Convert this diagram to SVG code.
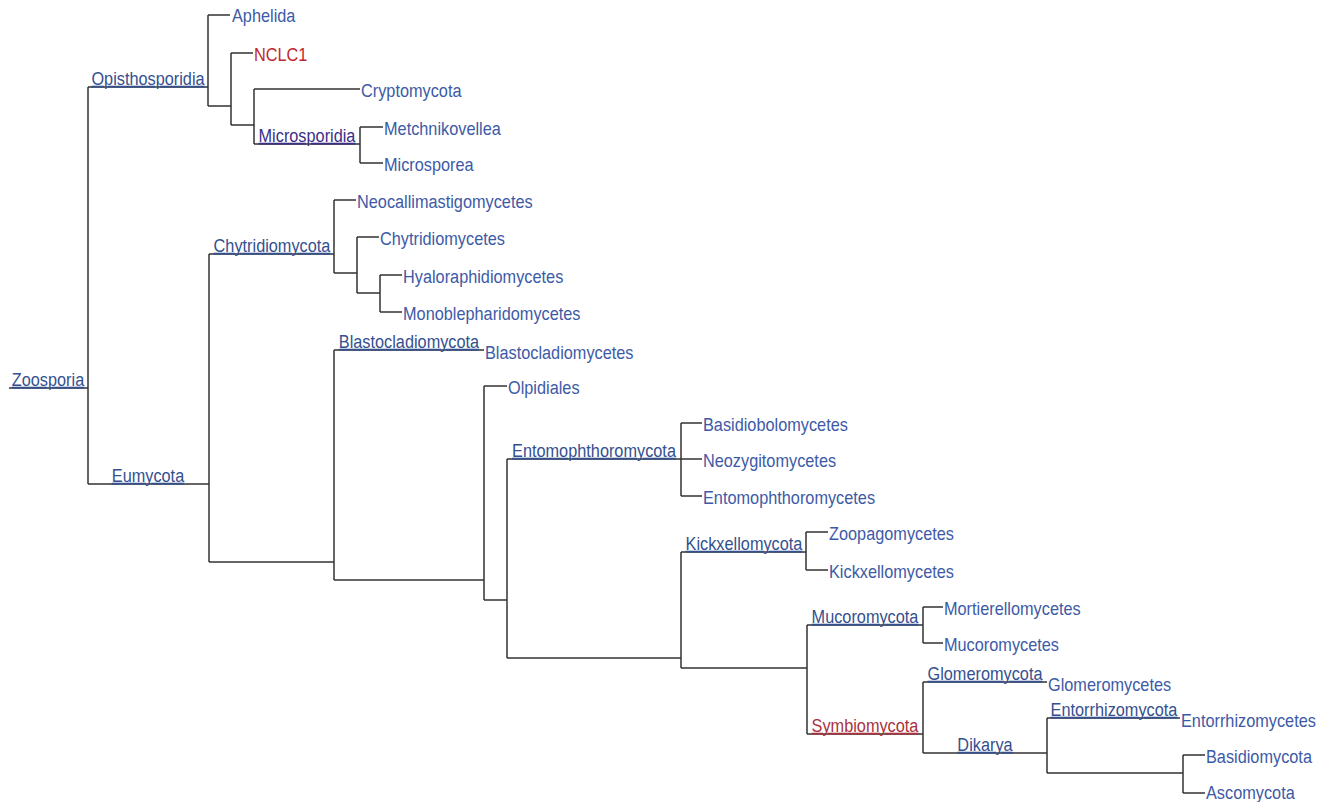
<svg xmlns="http://www.w3.org/2000/svg" width="1334" height="802" viewBox="0 0 1334 802">
<style>
text{font-family:"Liberation Sans",Arial,sans-serif;font-size:16.3px;transform-box:fill-box;transform-origin:center;transform:scaleY(1.12)}
.leaf{fill:#3d5aa6}
.int{fill:#34508f;text-anchor:middle;text-decoration:underline}
.vis{fill:#3b2f86}
.red{fill:#c0262d}
.redi{fill:#a8323d;text-anchor:middle;text-decoration:underline}
.e{fill:none;stroke:#333;stroke-width:1.5}
</style>
<rect width="1334" height="802" fill="#fff"/>
<g id="connectors">
<path class="e" d="M9,388H88M88,87V484"/>
<path class="e" d="M88,87H208M208,15V106M208,15H230M208,106H231M231,53V125M231,53H253M231,125H254M254,89V144M254,89H360M254,144H360M360,127V163M360,127H383M360,163H383"/>
<path class="e" d="M88,484H209M209,254V562M209,254H334M334,200V273M334,200H356M334,273H357M357,237V293M357,237H379M357,293H380M380,275V312M380,275H402M380,312H402"/>
<path class="e" d="M209,562H334M334,350V580M334,350H484M334,580H484M484,386V600M484,386H507M484,600H507M507,459V658M507,459H702M681,423V496M681,423H702M681,496H702"/>
<path class="e" d="M507,658H681M681,552V668M681,552H806M806,532V570M806,532H828M806,570H828M681,668H807M807,625V734M807,625H923M923,607V643M923,607H943M923,643H943"/>
<path class="e" d="M807,734H923M923,682V753M923,682H1047M923,753H1047M1047,718V773M1047,718H1180M1047,773H1183M1183,755V793M1183,755H1205M1183,793H1205"/>
</g>
<g id="n-zoosporia"><text class="int" x="48" y="385">Zoosporia</text></g>
<g id="n-opisthosporidia"><text class="int" x="148" y="84">Opisthosporidia</text></g>
<g id="n-aphelida"><text class="leaf" x="232" y="21">Aphelida</text></g>
<g id="n-nclc1"><text class="red" x="254" y="60">NCLC1</text></g>
<g id="n-cryptomycota"><text class="leaf" x="361" y="96">Cryptomycota</text></g>
<g id="n-microsporidia"><text class="int vis" x="307" y="141">Microsporidia</text></g>
<g id="n-metchnikovellea"><text class="leaf" x="384" y="134">Metchnikovellea</text></g>
<g id="n-microsporea"><text class="leaf" x="384" y="170">Microsporea</text></g>
<g id="n-eumycota"><text class="int" x="148" y="481">Eumycota</text></g>
<g id="n-chytridiomycota"><text class="int" x="272" y="251">Chytridiomycota</text></g>
<g id="n-neocallimastigomycetes"><text class="leaf" x="357" y="207">Neocallimastigomycetes</text></g>
<g id="n-chytridiomycetes"><text class="leaf" x="380" y="244">Chytridiomycetes</text></g>
<g id="n-hyaloraphidiomycetes"><text class="leaf" x="403" y="282">Hyaloraphidiomycetes</text></g>
<g id="n-monoblepharidomycetes"><text class="leaf" x="403" y="319">Monoblepharidomycetes</text></g>
<g id="n-blastocladiomycota"><text class="int" x="409" y="347">Blastocladiomycota</text></g>
<g id="n-blastocladiomycetes"><text class="leaf" x="485" y="358">Blastocladiomycetes</text></g>
<g id="n-olpidiales"><text class="leaf" x="508" y="393">Olpidiales</text></g>
<g id="n-entomophthoromycota"><text class="int" x="594" y="456">Entomophthoromycota</text></g>
<g id="n-basidiobolomycetes"><text class="leaf" x="703" y="430">Basidiobolomycetes</text></g>
<g id="n-neozygitomycetes"><text class="leaf" x="703" y="466">Neozygitomycetes</text></g>
<g id="n-entomophthoromycetes"><text class="leaf" x="703" y="503">Entomophthoromycetes</text></g>
<g id="n-kickxellomycota"><text class="int" x="744" y="549">Kickxellomycota</text></g>
<g id="n-zoopagomycetes"><text class="leaf" x="829" y="539">Zoopagomycetes</text></g>
<g id="n-kickxellomycetes"><text class="leaf" x="829" y="577">Kickxellomycetes</text></g>
<g id="n-mucoromycota"><text class="int" x="865" y="622">Mucoromycota</text></g>
<g id="n-mortierellomycetes"><text class="leaf" x="944" y="614">Mortierellomycetes</text></g>
<g id="n-mucoromycetes"><text class="leaf" x="944" y="650">Mucoromycetes</text></g>
<g id="n-symbiomycota"><text class="redi" x="865" y="731">Symbiomycota</text></g>
<g id="n-glomeromycota"><text class="int" x="985" y="679">Glomeromycota</text></g>
<g id="n-glomeromycetes"><text class="leaf" x="1048" y="690">Glomeromycetes</text></g>
<g id="n-dikarya"><text class="int" x="985" y="750">Dikarya</text></g>
<g id="n-entorrhizomycota"><text class="int" x="1114" y="715">Entorrhizomycota</text></g>
<g id="n-entorrhizomycetes"><text class="leaf" x="1181" y="726">Entorrhizomycetes</text></g>
<g id="n-basidiomycota"><text class="leaf" x="1206" y="762">Basidiomycota</text></g>
<g id="n-ascomycota"><text class="leaf" x="1206" y="798">Ascomycota</text></g>
</svg>
